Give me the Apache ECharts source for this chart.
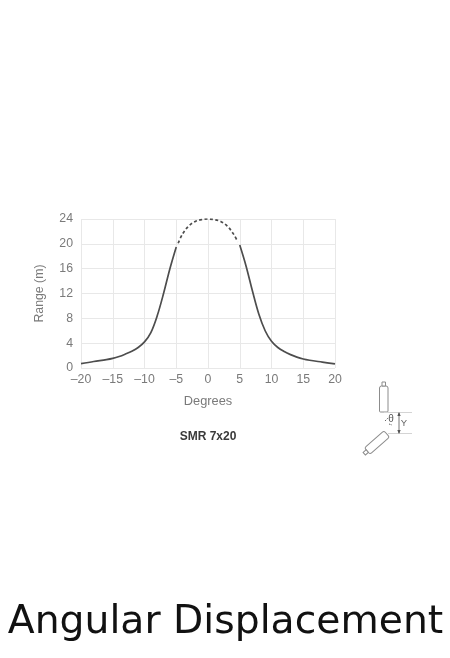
<!DOCTYPE html>
<html>
<head>
<meta charset="utf-8">
<style>html,body{margin:0;padding:0;background:#fff}#c{width:450px;height:658px}</style>
<script src="https://cdn.jsdelivr.net/npm/echarts@6/dist/echarts.min.js"></script>
</head>
<body>
<div id="c"></div>
<script>
const leftSolid = [[-20,0.7],[-18,1.05],[-16,1.35],[-15,1.55],[-14,1.85],[-13,2.25],[-12,2.7],[-11,3.3],[-10,4.2],[-9,5.7],[-8,8.4],[-7,12],[-6,16],[-5,19.5]];
const topDashed = [[-4.7,20.1],[-4,21.6],[-3,22.9],[-2,23.6],[-1,23.9],[0,24],[1,23.9],[2,23.6],[3,22.9],[4,21.6],[4.7,20.3]];
const rightSolid = [[5,19.8],[6,16.4],[7,12.4],[8,8.7],[9,6],[10,4.3],[11,3.3],[12,2.65],[13,2.15],[14,1.75],[15,1.45],[16,1.25],[18,0.95],[20,0.65]];
const xLabel = 'Degrees', yLabel = 'Range (m)', modelLabel = 'SMR 7x20', caption = 'Angular Displacement';
const grey = '#7a7a7a', lineColor = '#4d4d4d', gridColor = '#e8e8e8', iconColor = '#8c8c8c';
const lineSeries = (data, type) => ({type:'line', data, smooth:0.35, symbol:'none', silent:true,
  lineStyle:{color:lineColor, width: 1.7, type: type==='dashed'?[3,2.4]:'solid'}});
const chart = echarts.init(document.getElementById('c'), null, {renderer:'canvas'});
chart.setOption({
  animation:false,
  backgroundColor:'#fff',
  title:[
    {text:modelLabel, left:203, top:426, textAlign:'center', textStyle:{fontFamily:'Liberation Sans', fontSize:12, fontWeight:'bold', color:'#3a3a3a'}},
    {text:caption, left:220.5, top:598, textAlign:'center', textStyle:{fontFamily:'DejaVu Sans', fontSize:39.3, fontWeight:'normal', color:'#111'}}
  ],
  grid:{left:81, top:219, width:254, height:149, containLabel:false},
  xAxis:{type:'value', min:-20, max:20, interval:5, name:xLabel, nameLocation:'middle', nameGap:27,
    nameTextStyle:{fontFamily:'Liberation Sans', fontSize:12.8, color:grey},
    axisLine:{show:false}, axisTick:{show:false},
    axisLabel:{margin:6, fontFamily:'Liberation Sans', fontSize:12.3, color:grey, formatter:v=>String(v).replace('-','\u2013')},
    splitLine:{show:true, lineStyle:{color:gridColor, width:1}}},
  yAxis:{type:'value', min:0, max:24, interval:4, name:yLabel, nameLocation:'middle', nameGap:35, nameRotate:90,
    nameTextStyle:{fontFamily:'Liberation Sans', fontSize:12.3, color:grey},
    axisLine:{show:false}, axisTick:{show:false},
    axisLabel:{margin:8, fontFamily:'Liberation Sans', fontSize:12.3, color:grey},
    splitLine:{show:true, lineStyle:{color:gridColor, width:1}}},
  series:[lineSeries(leftSolid,'solid'), lineSeries(topDashed,'dashed'), lineSeries(rightSolid,'solid')],
  graphic:[
    {type:'rect', shape:{x:379.5,y:386,width:8.5,height:26,r:[2,2,1,1]}, style:{fill:'#fff',stroke:iconColor,lineWidth:1}},
    {type:'rect', shape:{x:382,y:382,width:3.5,height:4}, style:{fill:'#fff',stroke:iconColor,lineWidth:1}},
    {type:'group', x:377, y:442.5, rotation:Math.PI*0.23, children:[
      {type:'rect', shape:{x:-13,y:-4.25,width:26,height:8.5,r:2}, style:{fill:'#fff',stroke:iconColor,lineWidth:1}},
      {type:'rect', shape:{x:-17,y:-1.75,width:4,height:3.5}, style:{fill:'#fff',stroke:iconColor,lineWidth:1}}
    ]},
    {type:'line', shape:{x1:384,y1:412.5,x2:412,y2:412.5}, style:{stroke:'#d4d4d4',lineWidth:1}},
    {type:'line', shape:{x1:388,y1:433.5,x2:412,y2:433.5}, style:{stroke:'#d4d4d4',lineWidth:1}},
    {type:'line', shape:{x1:399,y1:413,x2:399,y2:433}, style:{stroke:'#777',lineWidth:1}},
    {type:'polygon', shape:{points:[[399,412],[397.3,416],[400.7,416]]}, style:{fill:'#555'}},
    {type:'polygon', shape:{points:[[399,434],[397.3,430],[400.7,430]]}, style:{fill:'#555'}},
    {type:'text', x:404, y:423, style:{text:'Y',fontFamily:'Liberation Sans',fontSize:9.5,fill:'#666',align:'center',verticalAlign:'middle'}},
    {type:'text', x:391, y:419, style:{text:'\u03b8',fontFamily:'Liberation Sans',fontSize:10,fill:'#555',align:'center',verticalAlign:'middle'}},
    {type:'line', shape:{x1:385,y1:421,x2:388,y2:418}, style:{stroke:'#666',lineWidth:1,lineDash:[1.5,1]}},
    {type:'line', shape:{x1:389,y1:424,x2:392,y2:425}, style:{stroke:'#666',lineWidth:1,lineDash:[1.5,1]}}
  ]
});
</script>
</body>
</html>
